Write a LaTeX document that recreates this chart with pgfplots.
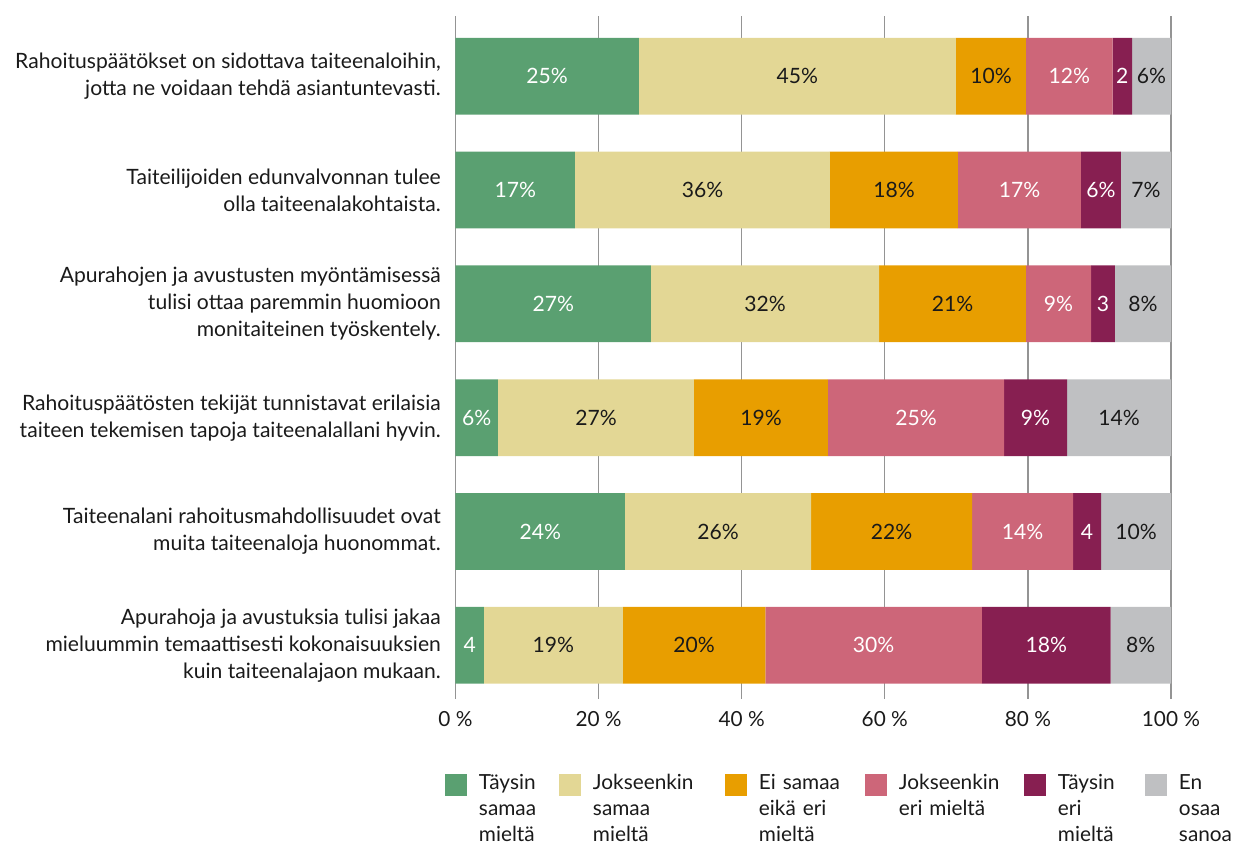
\documentclass[border=0pt]{standalone}
\usepackage{pgfplots}
\pgfplotsset{compat=1.18}
\usepackage{fontspec}
\setmainfont{Lato}
\definecolor{cG}{RGB}{90,160,113}
\definecolor{cB}{RGB}{227,215,149}
\definecolor{cO}{RGB}{232,158,0}
\definecolor{cP}{RGB}{205,102,121}
\definecolor{cD}{RGB}{135,31,81}
\definecolor{cY}{RGB}{191,192,194}
\definecolor{cT}{RGB}{26,26,26}
\newcommand\fs{\fontsize{20.8bp}{27bp}\selectfont}
\newcommand\fc{\fontsize{21.1bp}{27bp}\selectfont}
\begin{document}
\begin{tikzpicture}
\path[use as bounding box] (-455.5bp,-145bp) rectangle (779.5bp,699bp);
\begin{axis}[
  scale only axis, width=715.5bp, height=683bp,
  xbar stacked, bar width=76.8bp,
  xmin=0, xmax=100, ymin=-0.529, ymax=5.472, y dir=reverse,
  xtick={0,20,40,60,80,100},
  xticklabels={0 \%,20 \%,40 \%,60 \%,80 \%,100 \%},
  ytick={0,1,2,3,4,5},
  yticklabels={
    {Rahoituspäätökset on sidottava taiteenaloihin,\\jotta ne voidaan tehdä asiantuntevasti.},
    {Taiteilijoiden edunvalvonnan tulee\\olla taiteenalakohtaista.},
    {Apurahojen ja avustusten myöntämisessä\\tulisi ottaa paremmin huomioon\\monitaiteinen työskentely.},
    {Rahoituspäätösten tekijät tunnistavat erilaisia\\taiteen tekemisen tapoja taiteenalallani hyvin.},
    {Taiteenalani rahoitusmahdollisuudet ovat\\muita taiteenaloja huonommat.},
    {Apurahoja ja avustuksia tulisi jakaa\\mieluummin temaattisesti kokonaisuuksien\\kuin taiteenalajaon mukaan.}},
  major tick length=0pt,
  axis line style={draw=none},
  xmajorgrids, grid style={color=black!42, line width=1.2bp},
  tick label style={font=\fs, text=cT, inner sep=0pt},
  yticklabel style={align=right, xshift=-14.5bp, font=\fc},
  xticklabel style={yshift=-12bp},
  nodes near coords, point meta=explicit symbolic,
  every node near coord/.append style={anchor=center, font=\fc, text=cT},
  legend columns=6,
  legend style={at={(0,0)}, anchor=north west, xshift=-10.5bp, yshift=-75bp,
    draw=none, fill=none, inner sep=0pt, outer sep=0pt,
    font=\fontsize{20.8bp}{26bp}\selectfont, text=cT,
    cells={anchor=base west}, nodes={inner sep=0pt, align=left},
    /tikz/every odd column/.append style={column sep=12bp},
    /tikz/every even column/.append style={column sep=0bp}},
  legend image code/.code={\fill[#1] (0bp,-7bp) rectangle (22bp,15bp);},
]
\addplot[fill=cG, draw=none, every node near coord/.append style={text=white}] coordinates {
  (25.62,0) [25\%] (16.70,1) [17\%] (27.32,2) [27\%] (5.94,3) [6\%] (23.69,4) [24\%] (3.98,5) [4]};
\addlegendentry[text width=80bp]{Täysin\\samaa\\mieltä}
\addplot[fill=cB, draw=none] coordinates {
  (44.33,0) [45\%] (35.64,1) [36\%] (31.87,2) [32\%] (27.39,3) [27\%] (26.00,4) [26\%] (19.40,5) [19\%]};
\addlegendentry[text width=132bp]{Jokseenkin\\samaa\\mieltä}
\addplot[fill=cO, draw=none] coordinates {
  (9.78,0) [10\%] (17.89,1) [18\%] (20.54,2) [21\%] (18.73,3) [19\%] (22.50,4) [22\%] (19.92,5) [20\%]};
\addlegendentry[text width=106bp]{Ei samaa\\eikä eri\\mieltä}
\addplot[fill=cP, draw=none, every node near coord/.append style={text=white}] coordinates {
  (12.12,0) [12\%] (17.19,1) [17\%] (9.09,2) [9\%] (24.60,3) [25\%] (14.14,4) [14\%] (30.28,5) [30\%]};
\addlegendentry[text width=125bp]{Jokseenkin\\eri mieltä}
\addplot[fill=cD, draw=none, every node near coord/.append style={text=white}] coordinates {
  (2.70,0) [2] (5.58,1) [6\%] (3.35,2) [3] (8.81,3) [9\%] (3.89,4) [4] (17.97,5) [18\%]};
\addlegendentry[text width=87bp]{Täysin\\eri\\mieltä}
\addplot[fill=cY, draw=none] coordinates {
  (5.45,0) [6\%] (7.00,1) [7\%] (7.83,2) [8\%] (14.53,3) [14\%] (9.78,4) [10\%] (8.45,5) [8\%]};
\addlegendentry[text width=50bp]{En\\osaa\\sanoa}
\end{axis}
\end{tikzpicture}
\end{document}
